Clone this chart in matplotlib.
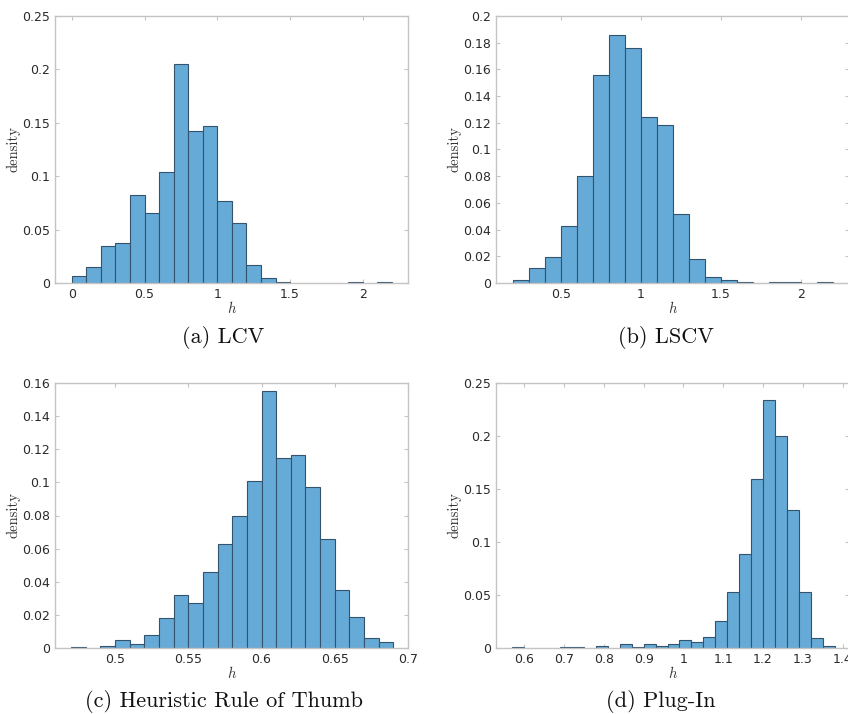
import numpy as np
import matplotlib
matplotlib.use("Agg")
import matplotlib.pyplot as plt
from matplotlib.ticker import FuncFormatter, FixedLocator

# ---- data (bar heights) ----
lcv_start, lcv_width = 0.0, 0.1
lcv = [0.0066, 0.0147, 0.0347, 0.0375, 0.082, 0.066, 0.104, 0.205, 0.142, 0.147,
       0.077, 0.056, 0.017, 0.0047, 0.0006, 0, 0, 0, 0, 0.0005, 0, 0.0005]

lscv_start, lscv_width = 0.2, 0.1
lscv = [0.002, 0.011, 0.0198, 0.043, 0.080, 0.156, 0.1855, 0.176, 0.124, 0.118,
        0.052, 0.0178, 0.0048, 0.0025, 0.0005, 0, 0.0005, 0.0005, 0, 0.0005]

rot_start, rot_width = 0.47, 0.01
rot = [0.0007, 0, 0.001, 0.0048, 0.0027, 0.0078, 0.018, 0.032, 0.027, 0.046,
       0.063, 0.080, 0.101, 0.155, 0.115, 0.1165, 0.0975, 0.066, 0.035, 0.0187,
       0.0058, 0.0037]

pi_start, pi_width = 0.57, 0.03
plugin = [0.0006, 0, 0, 0, 0.0006, 0.0006, 0, 0.0016, 0, 0.0038, 0.0006, 0.0038,
          0.0016, 0.0038, 0.0075, 0.0053, 0.0107, 0.0258, 0.053, 0.089, 0.159,
          0.234, 0.1997, 0.1305, 0.053, 0.0094, 0.0016]

captions = ["(a) LCV", "(b) LSCV", "(c) Heuristic Rule of Thumb", "(d) Plug-In"]
xticks = [[0, 0.5, 1, 1.5, 2],
          [0.5, 1, 1.5, 2],
          [0.5, 0.55, 0.6, 0.65, 0.7],
          [0.6, 0.7, 0.8, 0.9, 1, 1.1, 1.2, 1.3, 1.4]]
yticks = [list(np.arange(0, 0.2501, 0.05)),
          list(np.arange(0, 0.2001, 0.02)),
          list(np.arange(0, 0.1601, 0.02)),
          list(np.arange(0, 0.2501, 0.05))]
xlims = [(-0.115, 2.31), (0.094, 2.3), (0.459, 0.70), (0.529, 1.416)]
ylims = [(0, 0.25), (0, 0.2), (0, 0.16), (0, 0.25)]

series = [(lcv_start, lcv_width, lcv), (lscv_start, lscv_width, lscv),
          (rot_start, rot_width, rot), (pi_start, pi_width, plugin)]

W, H = 848, 714
# axes boxes in pixels: left, top, right, bottom
boxes = [(55, 16, 408, 283), (496, 16, 849, 283),
         (55, 383, 408, 648), (496, 383, 849, 648)]
cap_pos = [(223, 343), (666, 343), (224, 707), (661, 707)]

fig = plt.figure(figsize=(W / 100, H / 100), dpi=100)

face = "#66aad7"
edge = "#34536e"
spine_c = "#c4c4c4"
tick_c = "#2a2a2a"

fmt = FuncFormatter(lambda v, p: "%g" % round(v, 4))

for i, ((l, t, r, b), (st, bw, vals)) in enumerate(zip(boxes, series)):
    ax = fig.add_axes([l / W, 1 - b / H, (r - l) / W, (b - t) / H])
    vals = np.array(vals)
    lefts = st + bw * np.arange(len(vals))
    m = vals > 0
    ax.bar(lefts[m], vals[m], width=bw, align="edge", color=face,
           edgecolor=edge, linewidth=0.8, zorder=2)
    ax.set_xlim(*xlims[i])
    ax.set_ylim(*ylims[i])
    ax.xaxis.set_major_locator(FixedLocator(xticks[i]))
    ax.yaxis.set_major_locator(FixedLocator(yticks[i]))
    ax.xaxis.set_major_formatter(fmt)
    ax.yaxis.set_major_formatter(fmt)
    ax.tick_params(direction="in", length=3, width=0.8, color=spine_c,
                   labelcolor=tick_c, labelsize=9, top=True, right=True,
                   pad=3.5)
    for s in ax.spines.values():
        s.set_color(spine_c)
        s.set_linewidth(1.0)
    ax.set_ylabel("density", fontfamily="cmr10", fontsize=10.5, color="#333333",
                  labelpad=1)
    ax.set_xlabel("h", fontfamily="cmmi10", fontsize=10.5, color="#333333",
                  labelpad=1)
    cx, cy = cap_pos[i]
    fig.text(cx / W, 1 - cy / H, captions[i], fontfamily="cmr10",
             fontsize=16, ha="center", va="baseline", color="#111111")

fig.savefig("out.png", dpi=100)
